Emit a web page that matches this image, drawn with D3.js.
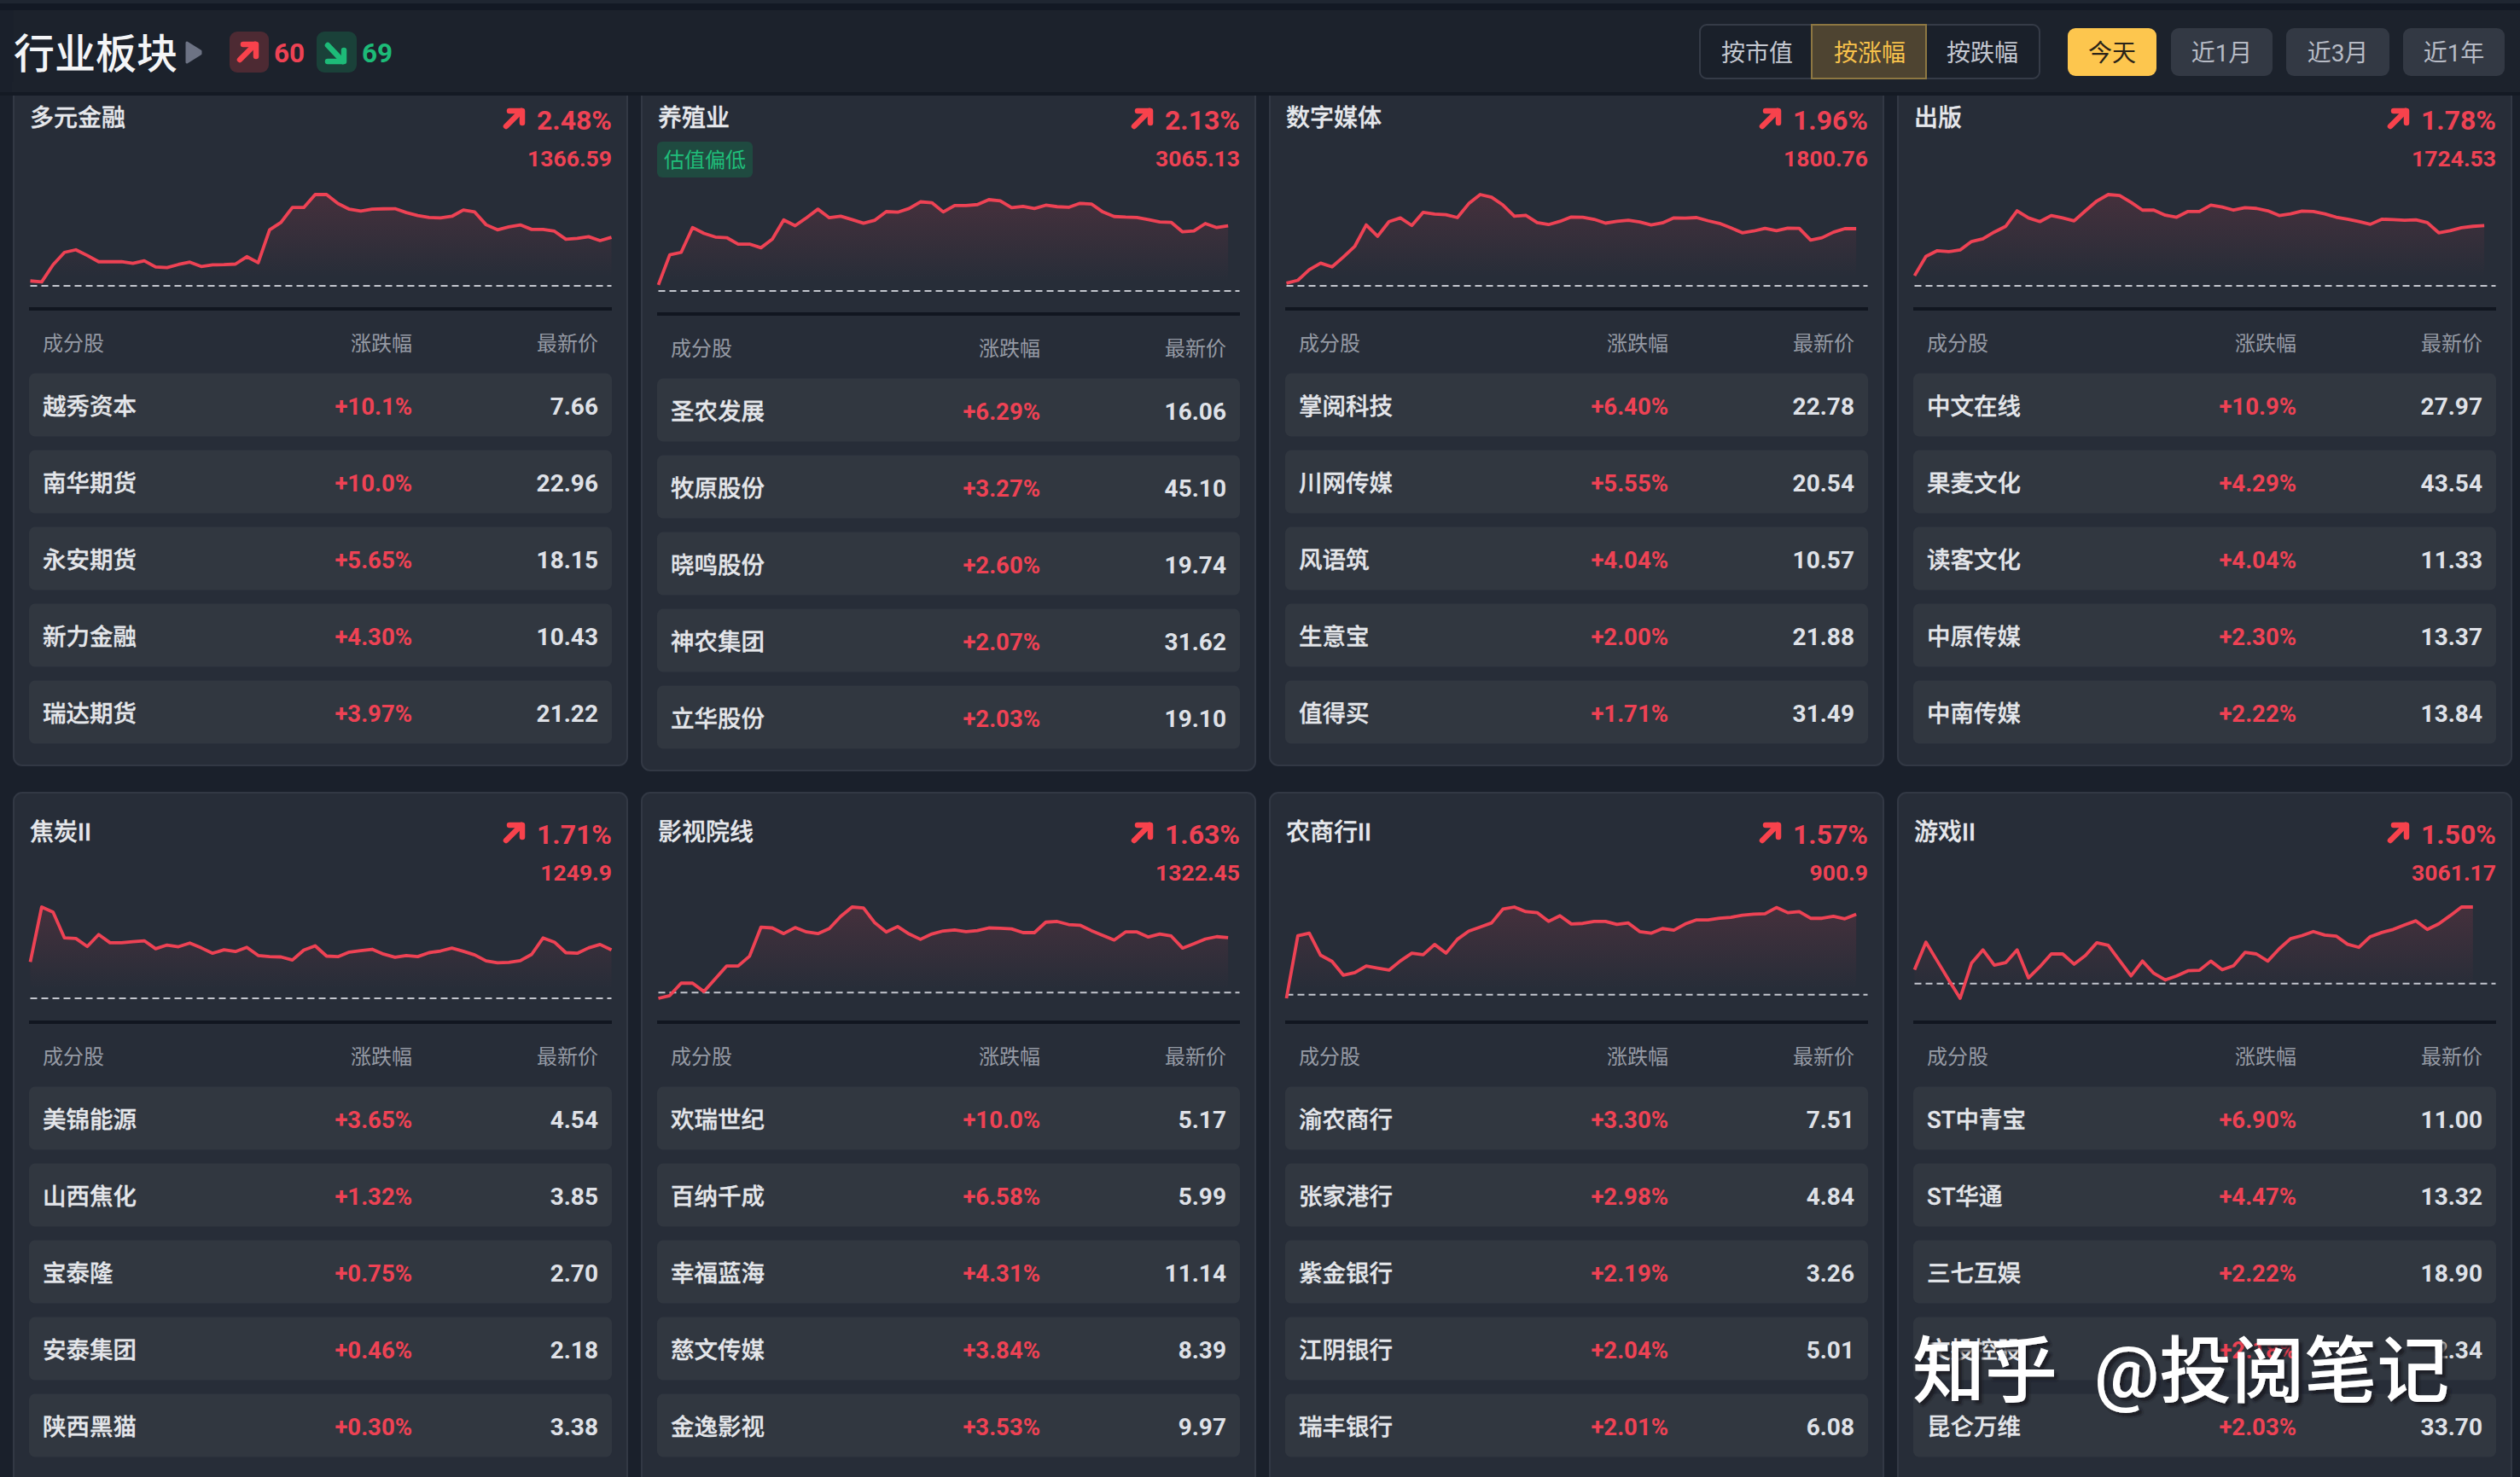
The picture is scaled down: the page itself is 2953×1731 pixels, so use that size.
<!DOCTYPE html>
<html>
<head>
<meta charset="utf-8">
<style>
  html, body { margin: 0; padding: 0; background: #1a202b; overflow: hidden; }
  svg { display: block; }
  text { font-family: Roboto, "Noto Sans CJK SC", sans-serif; }
</style>
<script src="https://cdn.jsdelivr.net/npm/d3@7"></script>
</head>
<body>
<script>
var sectors = ["多元金融", "养殖业", "数字媒体", "出版", "焦炭II", "影视院线", "农商行II", "游戏II"];
var sectorChanges = ["2.48%", "2.13%", "1.96%", "1.78%", "1.71%", "1.63%", "1.57%", "1.50%"];
var sectorLevels = ["1366.59", "3065.13", "1800.76", "1724.53", "1249.9", "1322.45", "900.9", "3061.17"];
var sortButtons = ["按市值", "按涨幅", "按跌幅"];
var rangeButtons = ["今天", "近1月", "近3月", "近1年"];
var tableHeads = ["成分股", "涨跌幅", "最新价"];

// intraday change in percent
var curve0 = [0.25,0.20,1.08,1.71,1.84,1.55,1.23,1.23,1.24,1.15,1.28,0.96,0.93,1.09,1.21,0.99,1.07,1.08,1.11,1.49,1.18,2.86,3.24,4.00,4.00,4.66,4.66,4.20,3.91,3.82,3.91,3.93,3.94,3.74,3.59,3.49,3.47,3.55,3.87,3.77,3.12,2.86,3.01,3.11,2.88,2.88,2.79,2.38,2.42,2.51,2.31,2.48];
var curve1 = [0.20,1.18,1.26,2.07,1.88,1.76,1.74,1.53,1.53,1.41,1.69,2.32,2.13,2.39,2.67,2.39,2.44,2.33,2.21,2.31,2.59,2.57,2.69,2.91,2.88,2.58,2.79,2.79,2.82,2.98,2.94,2.72,2.76,2.69,2.80,2.75,2.73,2.86,2.84,2.58,2.43,2.41,2.40,2.33,2.25,2.24,1.93,1.96,2.20,2.07,2.13];
var curve2 = [0.09,0.19,0.55,0.78,0.65,0.99,1.36,2.09,1.70,2.20,2.33,2.07,2.52,2.46,2.44,2.34,2.82,3.13,3.04,2.77,2.39,2.42,2.17,2.10,2.21,2.36,2.35,2.28,2.15,2.21,2.25,2.19,2.09,2.16,2.33,2.32,2.34,2.23,2.14,1.99,1.82,1.88,1.97,1.89,1.98,1.97,1.57,1.65,1.84,1.96,1.96];
var curve3 = [0.30,0.87,1.04,1.01,1.06,1.31,1.39,1.59,1.76,2.22,2.01,1.90,2.08,2.01,1.92,2.22,2.51,2.70,2.67,2.47,2.24,2.24,2.09,2.03,2.20,2.20,2.39,2.33,2.24,2.31,2.29,2.22,2.08,2.13,2.21,2.20,2.13,2.03,1.97,1.90,1.82,1.97,1.96,1.94,1.95,1.87,1.57,1.63,1.72,1.76,1.78];
var curve4 = [1.28,3.22,3.04,2.13,2.11,1.83,2.25,1.96,1.96,2.00,2.03,1.75,1.88,1.82,1.95,1.78,1.59,1.71,1.65,1.80,1.51,1.47,1.46,1.35,1.70,1.85,1.49,1.47,1.63,1.68,1.73,1.56,1.45,1.51,1.47,1.61,1.67,1.77,1.66,1.53,1.32,1.25,1.27,1.33,1.55,2.13,1.98,1.61,1.59,1.78,1.90,1.71];
var curve5 = [-0.17,-0.09,0.28,0.28,0.03,0.41,0.79,0.79,1.08,1.94,1.92,1.75,1.93,1.80,1.75,1.90,2.26,2.54,2.51,2.07,1.80,1.96,1.74,1.58,1.74,1.83,1.86,1.81,1.84,1.92,1.91,1.89,1.78,1.78,2.09,2.11,2.02,2.00,1.84,1.70,1.56,1.80,1.80,1.65,1.74,1.68,1.32,1.45,1.59,1.66,1.63];
var curve6 = [-0.07,1.15,1.20,0.77,0.65,0.38,0.43,0.56,0.52,0.48,0.66,0.81,0.78,0.98,0.81,1.08,1.24,1.32,1.40,1.67,1.71,1.62,1.60,1.43,1.54,1.38,1.39,1.43,1.43,1.37,1.40,1.23,1.20,1.29,1.26,1.38,1.46,1.46,1.49,1.51,1.55,1.57,1.58,1.70,1.60,1.62,1.49,1.49,1.53,1.48,1.57];
var curve7 = [0.27,0.81,0.44,0.07,-0.29,0.40,0.66,0.36,0.41,0.66,0.11,0.33,0.58,0.58,0.38,0.55,0.80,0.75,0.45,0.15,0.44,0.20,0.07,0.15,0.25,0.26,0.44,0.27,0.35,0.61,0.58,0.44,0.68,0.88,0.94,1.02,0.95,0.93,0.77,0.71,0.92,1.00,1.06,1.15,1.23,1.06,1.17,1.33,1.50,1.50];
var curves = [curve0, curve1, curve2, curve3, curve4, curve5, curve6, curve7];

var stockNames = [
  ["越秀资本", "南华期货", "永安期货", "新力金融", "瑞达期货"],
  ["圣农发展", "牧原股份", "晓鸣股份", "神农集团", "立华股份"],
  ["掌阅科技", "川网传媒", "风语筑", "生意宝", "值得买"],
  ["中文在线", "果麦文化", "读客文化", "中原传媒", "中南传媒"],
  ["美锦能源", "山西焦化", "宝泰隆", "安泰集团", "陕西黑猫"],
  ["欢瑞世纪", "百纳千成", "幸福蓝海", "慈文传媒", "金逸影视"],
  ["渝农商行", "张家港行", "紫金银行", "江阴银行", "瑞丰银行"],
  ["ST中青宝", "ST华通", "三七互娱", "文投控股", "昆仑万维"]
];
var stockChanges = [
  ["+10.1%", "+10.0%", "+5.65%", "+4.30%", "+3.97%"],
  ["+6.29%", "+3.27%", "+2.60%", "+2.07%", "+2.03%"],
  ["+6.40%", "+5.55%", "+4.04%", "+2.00%", "+1.71%"],
  ["+10.9%", "+4.29%", "+4.04%", "+2.30%", "+2.22%"],
  ["+3.65%", "+1.32%", "+0.75%", "+0.46%", "+0.30%"],
  ["+10.0%", "+6.58%", "+4.31%", "+3.84%", "+3.53%"],
  ["+3.30%", "+2.98%", "+2.19%", "+2.04%", "+2.01%"],
  ["+6.90%", "+4.47%", "+2.22%", "+2.18%", "+2.03%"]
];
var stockPrices = [
  ["7.66", "22.96", "18.15", "10.43", "21.22"],
  ["16.06", "45.10", "19.74", "31.62", "19.10"],
  ["22.78", "20.54", "10.57", "21.88", "31.49"],
  ["27.97", "43.54", "11.33", "13.37", "13.84"],
  ["4.54", "3.85", "2.70", "2.18", "3.38"],
  ["5.17", "5.99", "11.14", "8.39", "9.97"],
  ["7.51", "4.84", "3.26", "5.01", "6.08"],
  ["11.00", "13.32", "18.90", "2.34", "33.70"]
];

var RED = "#ee4254", GREEN = "#1dbb78", ARROW_RED = "#f8424c";
var cardW = 719;

var svg = d3.select("body").append("svg")
  .attr("width", 2953)
  .attr("height", 1731);

var defs = svg.append("defs");

function label(g, x, y, str, size, color, anchor, weight) {
  return g.append("text")
    .attr("x", x)
    .attr("y", y)
    .attr("dy", "0.36em")
    .attr("text-anchor", anchor || "start")
    .attr("font-size", size)
    .attr("font-weight", weight || 400)
    .attr("fill", color)
    .text(str);
}

function arrow(g, x, y, color, down) {
  var a = g.append("g")
    .attr("transform", "translate(" + x + "," + y + ")")
    .attr("fill", "none")
    .attr("stroke", color)
    .attr("stroke-width", 6.5)
    .attr("stroke-linecap", "round")
    .attr("stroke-linejoin", "round");
  if (down) {
    a.append("path").attr("d", "M3,3 L21,22");
    a.append("path").attr("d", "M3,22 L22,22 L22,9");
  } else {
    a.append("path").attr("d", "M3,21 L21,3");
    a.append("path").attr("d", "M7,3 L22,3 L22,17");
  }
}

// page header
svg.append("rect").attr("width", 2953).attr("height", 4).attr("fill", "#1f2631");
svg.append("rect").attr("y", 4).attr("width", 2953).attr("height", 8).attr("fill", "#131924");
svg.append("rect").attr("x", 16).attr("y", 12).attr("width", 2937).attr("height", 96).attr("fill", "#1c222c");
svg.append("rect").attr("y", 108).attr("width", 2953).attr("height", 4).attr("fill", "#141a24");

var head = svg.append("g");
label(head, 16, 63, "行业板块", 48, "#f4f5f7", "start", 500);
head.append("path").attr("d", "M219,50 L235,60 L235,63 L219,73 Z")
  .attr("fill", "#6d7384").attr("stroke", "#6d7384").attr("stroke-width", 3).attr("stroke-linejoin", "round");
head.append("rect").attr("x", 269).attr("y", 37).attr("width", 46).attr("height", 48).attr("rx", 9).attr("fill", "#4d2a33");
arrow(head, 278, 49, ARROW_RED, false);
label(head, 321, 62, "60", 31.5, RED, "start", 700);
head.append("rect").attr("x", 371).attr("y", 37).attr("width", 47).attr("height", 48).attr("rx", 9).attr("fill", "#1a4139");
arrow(head, 381, 50, GREEN, true);
label(head, 424, 62, "69", 31.5, GREEN, "start", 700);

head.append("rect").attr("x", 1992).attr("y", 29).attr("width", 398).attr("height", 63).attr("rx", 8)
  .attr("fill", "#1a202a").attr("stroke", "#353b47").attr("stroke-width", 2);
head.append("rect").attr("x", 2123).attr("y", 29).attr("width", 134).attr("height", 63)
  .attr("fill", "#4e4431").attr("stroke", "#8d7742").attr("stroke-width", 2);
var sortX = d3.scalePoint().domain(sortButtons).range([2059, 2323]);
sortButtons.forEach(function(b, i) {
  label(head, sortX(b), 62, b, 28, i === 1 ? "#f7c14b" : "#c3c7d0", "middle");
});

var rangeLeft = [2423, 2544, 2679, 2816];
var rangeWidth = [104, 119, 121, 119];
rangeButtons.forEach(function(b, i) {
  head.append("rect").attr("x", rangeLeft[i]).attr("y", 33).attr("width", rangeWidth[i]).attr("height", 56).attr("rx", 9)
    .attr("fill", i === 0 ? "#fdc64e" : "#333944");
  label(head, rangeLeft[i] + rangeWidth[i] / 2, 62, b, 28, i === 0 ? "#2a2419" : "#b7bbc5", "middle");
});

// cards
sectors.forEach(function(name, i) {
  var col = i % 4, rowIdx = Math.floor(i / 4);
  var cx = 16 + 736 * col;
  var shift = i === 1 ? 6 : 0;
  var top = rowIdx === 0 ? 112 : 929;
  var titleY = rowIdx === 0 ? 138 : 975;
  var plotTop = (rowIdx === 0 ? 228 : 1063) + shift;
  var ruleY = (rowIdx === 0 ? 362 : 1198) + shift;
  var g = svg.append("g");

  g.append("rect")
    .attr("x", cx).attr("y", rowIdx === 0 ? top - 14 : top)
    .attr("width", cardW).attr("height", rowIdx === 0 ? 799 + shift : 840)
    .attr("rx", 10)
    .attr("fill", "#272d38")
    .attr("stroke", "#323844")
    .attr("stroke-width", 2);
  if (rowIdx === 0) {
    g.append("rect").attr("x", cx - 2).attr("y", 96).attr("width", cardW + 4).attr("height", 16).attr("fill", "#141a24");
    g.append("rect").attr("x", cx - 2).attr("y", 96).attr("width", cardW + 4).attr("height", 12).attr("fill", "#1c222c");
  }

  label(g, cx + 19, titleY, name, 28, "#e6e8ec", "start", 500).attr("stroke", "#e6e8ec").attr("stroke-width", 0.3);
  arrow(g, cx + 574, titleY - 11, ARROW_RED, false);
  label(g, cx + 701, titleY + 2, sectorChanges[i], 32, RED, "end", 700);
  label(g, cx + 701, titleY + 47, sectorLevels[i], 26.5, RED, "end", 700);

  if (i === 1) {
    g.append("rect").attr("x", cx + 18).attr("y", 166).attr("width", 112).attr("height", 42).attr("rx", 6).attr("fill", "#1f4a40");
    label(g, cx + 74, 187, "估值偏低", 24, "#1fbe7a", "middle");
  }

  var values = curves[i];
  var x = d3.scaleLinear().domain([0, 51]).range([cx + 19.5, cx + 700.5]);
  var y = d3.scaleLinear()
    .domain([Math.min(0, d3.min(values)), d3.max(values)])
    .range([plotTop + 107, plotTop]);

  var gradId = "fade" + i;
  var grad = defs.append("linearGradient").attr("id", gradId)
    .attr("gradientUnits", "userSpaceOnUse")
    .attr("x1", 0).attr("y1", plotTop).attr("x2", 0).attr("y2", plotTop + 96);
  grad.append("stop").attr("offset", 0).attr("stop-color", RED).attr("stop-opacity", 0.15);
  grad.append("stop").attr("offset", 1).attr("stop-color", RED).attr("stop-opacity", 0);

  var area = d3.area()
    .x(function(d, k) { return x(k); })
    .y0(plotTop + 107)
    .y1(function(d) { return y(d); });
  var line = d3.line()
    .x(function(d, k) { return x(k); })
    .y(function(d) { return y(d); });

  g.append("path").attr("d", area(values)).attr("fill", "url(#" + gradId + ")");
  g.append("line")
    .attr("x1", x(0)).attr("x2", x(51))
    .attr("y1", y(0)).attr("y2", y(0))
    .attr("stroke", "#c3c6ce")
    .attr("stroke-width", 2)
    .attr("stroke-dasharray", "8,5");
  g.append("path").attr("d", line(values))
    .attr("fill", "none")
    .attr("stroke", RED)
    .attr("stroke-width", 3.8)
    .attr("stroke-linejoin", "round");

  g.append("rect").attr("x", cx + 18).attr("y", ruleY - 2).attr("width", 683).attr("height", 4).attr("fill", "#111620");

  label(g, cx + 34, ruleY + 40, tableHeads[0], 24, "#959aa4");
  label(g, cx + 467, ruleY + 40, tableHeads[1], 24, "#959aa4", "end");
  label(g, cx + 685, ruleY + 40, tableHeads[2], 24, "#959aa4", "end");

  stockNames[i].forEach(function(stock, k) {
    var ry = ruleY + 75.6 + 90 * k;
    g.append("rect").attr("x", cx + 18).attr("y", ry).attr("width", 683).attr("height", 74).attr("rx", 7).attr("fill", "#313740");
    label(g, cx + 34, ry + 38, stock, 27.5, "#e4e6ea", "start", 500).attr("stroke", "#e4e6ea").attr("stroke-width", 0.3);
    label(g, cx + 467, ry + 38, stockChanges[i][k], 27.5, RED, "end", 700);
    label(g, cx + 685, ry + 38, stockPrices[i][k], 28, "#dfe1e7", "end", 700);
  });
});

// watermark sits on top of the last card
var mark = svg.append("g");
defs.append("filter").attr("id", "markShadow")
  .append("feDropShadow")
  .attr("dx", 4).attr("dy", 4).attr("stdDeviation", 1.5)
  .attr("flood-color", "#12161d").attr("flood-opacity", 0.85);
var markText = label(mark, 2241, 1606, "", 85, "#ffffff", "start", 500)
  .attr("filter", "url(#markShadow)");
markText.append("tspan").text("知乎");
markText.append("tspan").attr("x", 2454).text("@投阅笔记");
</script>
</body>
</html>
